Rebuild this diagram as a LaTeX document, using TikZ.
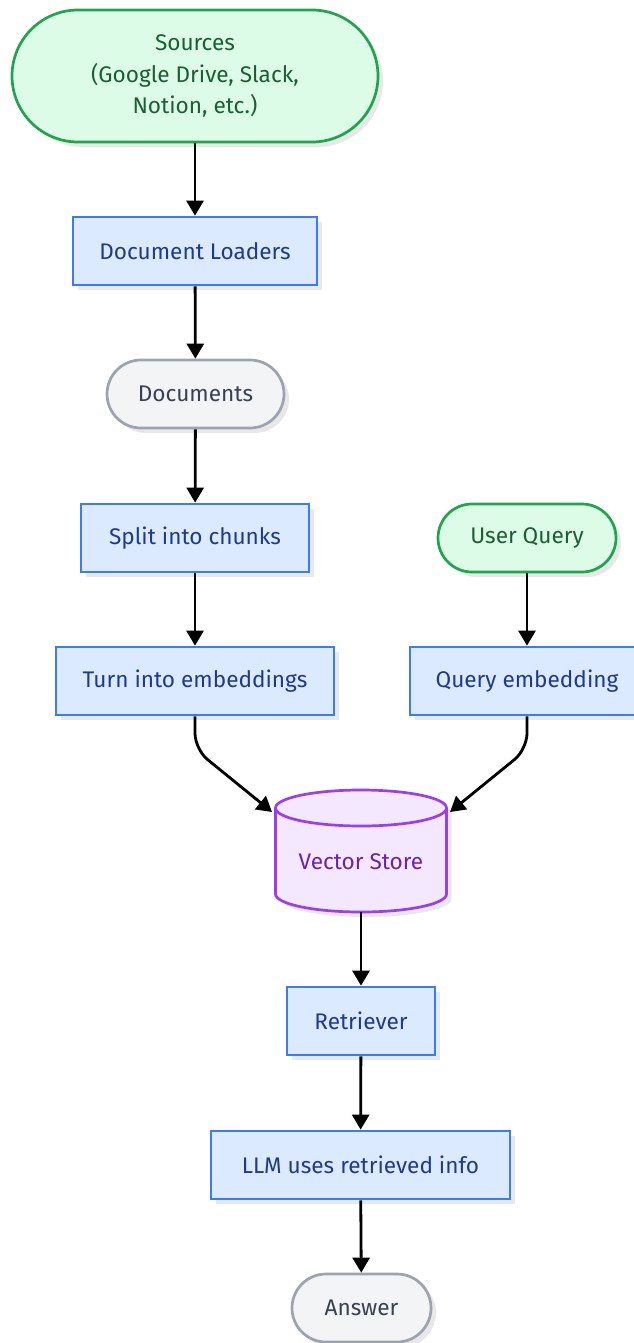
\documentclass[tikz,border=0pt]{standalone}
\usepackage{fontspec}
\setmainfont{Fira Sans}
\usetikzlibrary{arrows.meta,shadows}

\definecolor{greenfill}{HTML}{DCFCE7}
\definecolor{greenstroke}{HTML}{22A34E}
\definecolor{greentext}{HTML}{1A5E36}
\definecolor{bluefill}{HTML}{DBEAFE}
\definecolor{bluestroke}{HTML}{3B7CF0}
\definecolor{bluetext}{HTML}{1E3A8A}
\definecolor{grayfill}{HTML}{F3F4F6}
\definecolor{graystroke}{HTML}{9CA3AF}
\definecolor{graytext}{HTML}{374151}
\definecolor{purplefill}{HTML}{F3E8FF}
\definecolor{purplestroke}{HTML}{9B3FEA}
\definecolor{purpletext}{HTML}{6B21A8}

\begin{document}
\begin{tikzpicture}[x=1pt,y=1pt,
  base/.style={line width=2.7pt, align=center, inner sep=0pt,
    font=\fontsize{22.6}{31.5}\selectfont,
    drop shadow={shadow xshift=5pt, shadow yshift=-5pt, opacity=0.09, fill=black}},
  proc/.style={base, rectangle, draw=bluestroke, fill=bluefill, text=bluetext, minimum height=68pt},
  term/.style={base, rectangle, rounded corners=34pt, draw=graystroke, fill=grayfill, text=graytext, minimum height=68pt},
  src/.style={base, rectangle, draw=greenstroke, fill=greenfill, text=greentext},
  link/.style={line width=2.8pt, black, -{Triangle[width=17pt,length=15pt]}, rounded corners=16pt}
]
\useasboundingbox (0,0) rectangle (633,-1343);

% left column: ingestion
\node[src, rounded corners=66pt, minimum width=366pt, minimum height=132pt] (sources) at (195,-76)
  {Sources\\(Google Drive, Slack,\\Notion, etc.)};
\node[proc, minimum width=244pt] (loaders) at (195,-251) {Document Loaders};
\node[term, minimum width=177pt] (docs) at (195.5,-394) {Documents};
\node[proc, minimum width=228pt] (split) at (195,-538) {Split into chunks};
\node[proc, minimum width=278pt] (embed) at (195,-681) {Turn into embeddings};

% right column: query
\node[src, rounded corners=34pt, minimum width=178pt, minimum height=68pt] (query) at (527,-538) {User Query};
\node[proc, minimum width=234pt] (qembed) at (527,-681) {Query embedding};

% vector store cylinder
\node[minimum width=171pt, minimum height=122pt, inner sep=0pt] (vs) at (361,-851) {};
\fill[black, opacity=0.09, xshift=5pt, yshift=-5pt]
  (275.5,-808) -- (275.5,-894) arc (180:360:85.5 and 18) -- (446.5,-808) arc (0:180:85.5 and 18) -- cycle;
\filldraw[line width=2.7pt, draw=purplestroke, fill=purplefill]
  (275.5,-808) -- (275.5,-894) arc (180:360:85.5 and 18) -- (446.5,-808) arc (0:180:85.5 and 18) -- cycle;
\draw[line width=2.7pt, purplestroke] (275.5,-808) arc (180:360:85.5 and 18);
\node[text=purpletext, font=\fontsize{22.6}{31.5}\selectfont, inner sep=0pt] (vslabel) at (361,-862) {Vector Store};
\coordinate (vsL) at (272,-812);
\coordinate (vsR) at (450,-812);

% output
\node[proc, minimum width=148pt] (retriever) at (361,-1021) {Retriever};
\node[proc, minimum width=299pt] (llm) at (360.5,-1165) {LLM uses retrieved info};
\node[term, minimum width=139pt] (answer) at (361.5,-1308) {Answer};

% connectors
\draw[link] (sources) -- (loaders);
\draw[link] (loaders) -- (docs);
\draw[link] (docs) -- (split);
\draw[link] (split) -- (embed);
\draw[link] (query) -- (qembed);
\draw[link] (embed.south) -- ++(0,-33) -- (vsL);
\draw[link] (qembed.south) -- ++(0,-33) -- (vsR);
\draw[link] (vs.south) -- (retriever);
\draw[link] (retriever) -- (llm);
\draw[link] (llm) -- (answer);
\end{tikzpicture}
\end{document}
